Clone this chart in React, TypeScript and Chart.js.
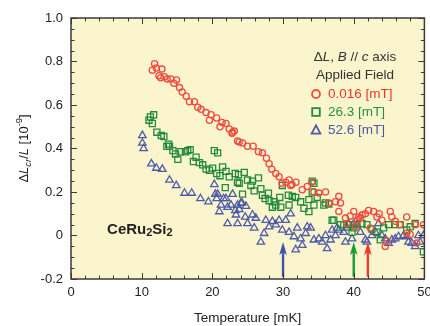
import { useEffect, useRef } from 'react';
import { Chart, registerables } from 'chart.js';

Chart.register(...registerables);

const FONT = "'Liberation Sans', Arial, sans-serif";

const seriesLabels = ['0.016 [mT]', '26.3 [mT]', '52.6 [mT]'];
const markerColors = ['#EE4C40', '#238A3C', '#4C5AA8'];
const textColors = ['#E8362C', '#26923E', '#4A58A8'];
const pointStyles = ['circle', 'rect', 'triangle'];
const pointRadii = [3.1, 4.3, 4.3];

const red0016: [number, number][] = [
  [11.5, 0.76], [11.83, 0.79], [12.07, 0.77], [12.44, 0.735], [12.68, 0.725], [12.86, 0.765], [13.2, 0.73],
  [13.62, 0.72], [14.13, 0.72], [14.55, 0.7], [14.93, 0.715], [15.35, 0.68], [15.73, 0.66], [16.3, 0.64],
  [16.76, 0.615], [17.46, 0.615], [17.93, 0.59], [18.4, 0.58], [19.11, 0.565], [19.58, 0.53], [19.82, 0.555],
  [20.6, 0.54], [21.08, 0.5], [21.37, 0.52], [21.93, 0.515], [22.39, 0.49], [22.77, 0.47], [22.86, 0.475],
  [23.1, 0.48], [23.56, 0.435], [23.8, 0.43], [24.27, 0.425], [24.97, 0.41], [25.77, 0.41], [26.52, 0.385],
  [27.08, 0.38], [27.65, 0.355], [28.03, 0.33], [28.41, 0.305], [28.97, 0.285], [29.44, 0.27], [29.86, 0.24],
  [30.38, 0.245], [30.85, 0.255], [31.08, 0.23], [31.27, 0.235], [31.83, 0.245], [32.72, 0.21], [33.42, 0.225],
  [34.08, 0.245], [34.37, 0.2], [35.07, 0.195], [36.01, 0.2], [36.48, 0.15], [37.42, 0.155], [37.89, 0.18],
  [37.89, 0.11], [38.13, 0.15], [38.83, 0.08], [39.06, 0.055], [39.5, 0.09], [40.0, 0.11], [40.24, 0.04],
  [40.5, 0.07], [40.7, 0.085], [40.94, 0.08], [41.2, 0.095], [41.65, 0.1], [42.11, 0.115], [42.35, 0.035],
  [42.82, 0.11], [43.28, 0.085], [43.6, 0.1], [44.0, 0.07], [44.46, -0.05], [44.69, -0.025], [45.17, 0.11],
  [45.39, 0.085], [45.87, 0.065], [46.5, 0.05], [47.5, 0.085], [47.5, 0.01], [47.99, 0.005], [48.69, 0.05],
  [48.92, -0.035], [49.86, 0.05],
];

const green263: [number, number][] = [
  [11.03, 0.53], [11.23, 0.545], [11.51, 0.515], [11.69, 0.555], [12.15, 0.475], [12.77, 0.46], [13.14, 0.455],
  [13.56, 0.41], [13.8, 0.42], [13.94, 0.41], [14.41, 0.39], [14.79, 0.375], [15.11, 0.35], [15.45, 0.385],
  [16.2, 0.385], [16.52, 0.39], [16.86, 0.395], [17.32, 0.34], [17.7, 0.36], [18.17, 0.335], [18.63, 0.325],
  [19.11, 0.305], [19.58, 0.3], [20.04, 0.31], [20.28, 0.39], [20.61, 0.285], [20.75, 0.38], [21.08, 0.275],
  [21.45, 0.315], [21.83, 0.22], [21.93, 0.295], [22.39, 0.27], [23.24, 0.285], [23.56, 0.245], [23.7, 0.28],
  [23.8, 0.24], [24.27, 0.19], [24.51, 0.29], [24.97, 0.255], [25.45, 0.23], [25.68, 0.25], [25.92, 0.205],
  [26.52, 0.265], [26.86, 0.215], [27.08, 0.185], [27.46, 0.17], [27.93, 0.195], [28.03, 0.16], [28.49, 0.13],
  [28.73, 0.155], [28.97, 0.14], [29.54, 0.175], [29.68, 0.13], [29.9, 0.23], [30.75, 0.185], [30.85, 0.14],
  [31.31, 0.18], [31.79, 0.175], [32.49, 0.155], [32.96, 0.125], [33.66, 0.165], [33.66, 0.11], [34.13, 0.25],
  [34.13, 0.2], [34.37, 0.24], [34.37, 0.14], [34.83, 0.175], [35.77, 0.14], [36.01, 0.15], [36.48, 0.145],
  [36.94, 0.07], [37.18, 0.07], [38.13, 0.05], [38.59, 0.05], [39.3, 0.05], [39.76, 0.015], [40.0, 0.035],
  [40.46, 0.05], [41.17, 0.055], [41.87, 0.05], [42.58, 0.03], [43.28, 0.015], [43.76, -0.02], [44.23, 0.035],
  [44.93, 0.05], [45.87, 0.05], [46.58, 0.05], [47.5, 0.025], [47.99, 0.04], [48.69, 0.055], [49.86, -0.075],
];

const blue526: [number, number][] = [
  [10.1, 0.46], [10.1, 0.425], [10.28, 0.4], [11.37, 0.33], [12.07, 0.31], [12.92, 0.305], [13.94, 0.255],
  [14.89, 0.23], [16.06, 0.195], [17.08, 0.195], [18.31, 0.17], [19.44, 0.155], [20.28, 0.235], [20.42, 0.19],
  [20.61, 0.17], [20.75, 0.19], [20.99, 0.11], [21.23, 0.14], [21.59, 0.17], [21.93, 0.17], [22.15, 0.13],
  [22.15, 0.055], [22.63, 0.14], [22.86, 0.19], [23.24, 0.115], [23.34, 0.095], [23.56, 0.055], [23.56, 0.14],
  [23.8, 0.12], [24.04, 0.15], [24.18, 0.15], [24.65, 0.085], [24.75, 0.135], [24.97, 0.055], [25.68, 0.095],
  [25.92, 0.035], [26.15, 0.08], [26.86, -0.03], [27.32, 0.01], [27.56, 0.07], [28.03, 0.04], [28.49, 0.065],
  [28.97, 0.05], [29.44, 0.07], [29.9, 0.025], [30.38, 0.07], [30.85, 0.015], [31.08, 0.1], [31.55, -0.005],
  [31.79, -0.065], [32.01, 0.035], [32.49, -0.015], [32.72, -0.045], [33.2, 0.01], [33.42, 0.04], [33.9, 0.035],
  [34.37, -0.02], [35.07, -0.015], [35.54, -0.03], [36.01, 0.0], [36.24, -0.06], [36.72, -0.02], [36.94, 0.025],
  [37.42, 0.0], [37.65, 0.035], [37.89, 0.025], [38.59, 0.015], [38.83, -0.03], [39.06, 0.035], [39.3, 0.055],
  [39.76, -0.015], [40.0, 0.055], [40.46, 0.05], [40.94, 0.015], [41.65, -0.02], [41.87, -0.03], [42.58, 0.0],
  [43.06, 0.015], [43.52, 0.055], [43.99, 0.0], [44.46, -0.015], [44.93, -0.035], [45.39, -0.02], [45.87, -0.015],
  [46.34, -0.005], [47.04, 0.0], [47.5, -0.005], [47.75, -0.03], [48.21, -0.035], [48.69, -0.05], [49.15, 0.0],
  [49.39, -0.03], [49.86, 0.0],
];

const seriesData = [red0016, green263, blue526];

// transition markers (temperature, mK)
const arrowTemps = [30, 40, 42];
const arrowColors = ['#4452A8', '#1E9A3A', '#EE3B2E'];
const arrowBaseValue = -0.19;
const arrowTipValue = -0.03;

const xMin = 0, xMax = 50, xMajor = 10, xMinor = 2;
const yMin = -0.2, yMax = 1.0, yMajor = 0.2, yMinor = 0.05;

const xTitle = 'Temperature [mK]';
const sampleName = ['CeRu', '2', 'Si', '2'];
const sampleAt = [5.1, 0.025];

type Seg = { t: string; i?: boolean; sub?: boolean; sup?: boolean };
const yTitleSegs: Seg[] = [
  { t: 'Δ' }, { t: 'L', i: true }, { t: 'cr', sub: true, i: true }, { t: '/' }, { t: 'L', i: true },
  { t: ' [10' }, { t: '-9', sup: true }, { t: ']' },
];
const legendHeader: Seg[] = [
  { t: 'Δ' }, { t: 'L', i: true }, { t: ', ' }, { t: 'B', i: true }, { t: ' // ' }, { t: 'c', i: true }, { t: ' axis' },
];
const legendSub = 'Applied Field';

function segFont(s: Seg, size: number) {
  const sz = s.sub || s.sup ? size * 0.72 : size;
  return `${s.i ? 'italic ' : ''}${sz}px ${FONT}`;
}
function measureSegs(ctx: CanvasRenderingContext2D, segs: Seg[], size: number) {
  let w = 0;
  for (const s of segs) { ctx.font = segFont(s, size); w += ctx.measureText(s.t).width; }
  return w;
}
function drawSegs(ctx: CanvasRenderingContext2D, segs: Seg[], size: number, x: number, y: number) {
  let cx = x;
  ctx.textBaseline = 'middle';
  ctx.textAlign = 'left';
  for (const s of segs) {
    ctx.font = segFont(s, size);
    const dy = s.sub ? size * 0.3 : s.sup ? -size * 0.35 : 0;
    ctx.fillText(s.t, cx, y + dy);
    cx += ctx.measureText(s.t).width;
  }
}

const decorPlugin = {
  id: 'decor',
  beforeDraw(chart: any) {
    const { ctx, chartArea: a } = chart;
    ctx.save();
    ctx.fillStyle = '#FBF5CE';
    ctx.fillRect(a.left, a.top, a.right - a.left, a.bottom - a.top);
    ctx.restore();
  },
  afterDraw(chart: any) {
    const { ctx, chartArea: a, scales } = chart;
    const xs = scales.x, ys = scales.y;
    ctx.save();
    // arrows
    arrowTemps.forEach((t, k) => {
      const px = xs.getPixelForValue(t);
      const pb = ys.getPixelForValue(arrowBaseValue);
      const pt = ys.getPixelForValue(arrowTipValue);
      ctx.strokeStyle = arrowColors[k];
      ctx.fillStyle = arrowColors[k];
      ctx.lineWidth = 2.4;
      ctx.beginPath();
      ctx.moveTo(px, pb);
      ctx.lineTo(px, pt + 10);
      ctx.stroke();
      ctx.beginPath();
      ctx.moveTo(px, pt);
      ctx.lineTo(px - 3.8, pt + 13);
      ctx.lineTo(px, pt + 10);
      ctx.lineTo(px + 3.8, pt + 13);
      ctx.closePath();
      ctx.fill();
    });
    // frame
    ctx.strokeStyle = '#3a3a3a';
    ctx.lineWidth = 1.5;
    ctx.strokeRect(a.left, a.top, a.right - a.left, a.bottom - a.top);
    ctx.lineWidth = 1;
    ctx.beginPath();
    const nx = Math.round((xMax - xMin) / xMinor);
    for (let i = 0; i <= nx; i++) {
      const v = xMin + i * xMinor;
      const major = Math.abs(v / xMajor - Math.round(v / xMajor)) < 1e-6;
      const len = major ? 6 : 3.5;
      const px = Math.round(xs.getPixelForValue(v)) + 0.5;
      ctx.moveTo(px, a.bottom); ctx.lineTo(px, a.bottom - len);
      ctx.moveTo(px, a.top); ctx.lineTo(px, a.top + len);
    }
    const ny = Math.round((yMax - yMin) / yMinor);
    for (let i = 0; i <= ny; i++) {
      const v = yMin + i * yMinor;
      const major = Math.abs(v / yMajor - Math.round(v / yMajor)) < 1e-6;
      const len = major ? 6 : 3.5;
      const py = Math.round(ys.getPixelForValue(v)) + 0.5;
      ctx.moveTo(a.left, py); ctx.lineTo(a.left + len, py);
      ctx.moveTo(a.right, py); ctx.lineTo(a.right - len, py);
    }
    ctx.stroke();

    // y title (rotated rich text)
    ctx.fillStyle = '#222';
    const ySize = 13;
    const yw = measureSegs(ctx, yTitleSegs, ySize);
    ctx.save();
    ctx.translate(24, (a.top + a.bottom) / 2);
    ctx.rotate(-Math.PI / 2);
    drawSegs(ctx, yTitleSegs, ySize, -yw / 2, 0);
    ctx.restore();

    // legend
    const lSize = 13.5;
    const cxL = 355;
    ctx.fillStyle = '#333';
    const hw = measureSegs(ctx, legendHeader, lSize);
    drawSegs(ctx, legendHeader, lSize, cxL - hw / 2, a.top + 39);
    ctx.font = `${lSize}px ${FONT}`;
    ctx.textAlign = 'center';
    ctx.fillText(legendSub, cxL, a.top + 57);
    seriesLabels.forEach((lab, k) => {
      const y = a.top + 76 + k * 18;
      const mx = 316;
      ctx.strokeStyle = markerColors[k];
      ctx.lineWidth = 1.8;
      ctx.beginPath();
      if (k === 0) ctx.arc(mx, y, 4, 0, Math.PI * 2);
      else if (k === 1) ctx.rect(mx - 3.8, y - 3.8, 7.6, 7.6);
      else { ctx.moveTo(mx, y - 4.6); ctx.lineTo(mx - 4.4, y + 3.6); ctx.lineTo(mx + 4.4, y + 3.6); ctx.closePath(); }
      ctx.stroke();
      ctx.fillStyle = textColors[k];
      ctx.font = `${lSize}px ${FONT}`;
      ctx.textAlign = 'left';
      ctx.textBaseline = 'middle';
      ctx.fillText(lab, 328, y);
    });

    // sample name
    ctx.fillStyle = '#222';
    let sx = xs.getPixelForValue(sampleAt[0]);
    const sy = ys.getPixelForValue(sampleAt[1]);
    ctx.textAlign = 'left';
    ctx.textBaseline = 'middle';
    sampleName.forEach((p, k) => {
      const small = k % 2 === 1;
      ctx.font = `bold ${small ? 11 : 15}px ${FONT}`;
      ctx.fillText(p, sx, sy + (small ? 3 : 0));
      sx += ctx.measureText(p).width;
    });
    ctx.restore();
  },
};

export default function App() {
  const ref = useRef<HTMLCanvasElement>(null);
  useEffect(() => {
    document.body.style.margin = '0';
    const chart = new Chart(ref.current!, {
      type: 'scatter',
      data: {
        datasets: seriesData.map((d, k) => ({
          label: seriesLabels[k],
          data: d.map(([x, y]) => ({ x, y })),
          pointStyle: pointStyles[k] as any,
          pointRadius: pointRadii[k],
          pointBorderWidth: 1.3,
          borderColor: markerColors[k],
          backgroundColor: 'rgba(0,0,0,0)',
          pointBackgroundColor: 'rgba(0,0,0,0)',
          pointBorderColor: markerColors[k],
        })),
      },
      options: {
        animation: false,
        responsive: false,
        layout: { padding: { left: 0, right: 4, top: 18, bottom: 0 } },
        plugins: { legend: { display: false }, tooltip: { enabled: false } },
        scales: {
          x: {
            type: 'linear', min: xMin, max: xMax,
            grid: { display: false, drawTicks: false },
            border: { display: false },
            ticks: { stepSize: xMajor, padding: 6, color: '#222', font: { size: 13, family: FONT }, maxRotation: 0 },
            title: { display: true, text: xTitle, color: '#222', font: { size: 13.5, family: FONT }, padding: { top: 0, bottom: 0 } },
            afterFit: (s: any) => { s.height = 47; s.paddingLeft = 0; s.paddingRight = 0; },
          },
          y: {
            type: 'linear', min: yMin, max: yMax,
            grid: { display: false, drawTicks: false },
            border: { display: false },
            ticks: {
              stepSize: yMajor, padding: 8, color: '#222', font: { size: 13, family: FONT },
              callback: (v: any) => (Math.abs(Number(v)) < 1e-9 ? '0' : Number(v).toFixed(1)),
            },
            afterFit: (s: any) => { s.width = 71; s.paddingTop = 0; s.paddingBottom = 0; },
          },
        },
      },
      plugins: [decorPlugin],
    });
    return () => chart.destroy();
  }, []);
  return (
    <div style={{ width: 430, height: 326, position: 'relative', background: '#fff' }}>
      <canvas ref={ref} width={430} height={326} />
    </div>
  );
}
